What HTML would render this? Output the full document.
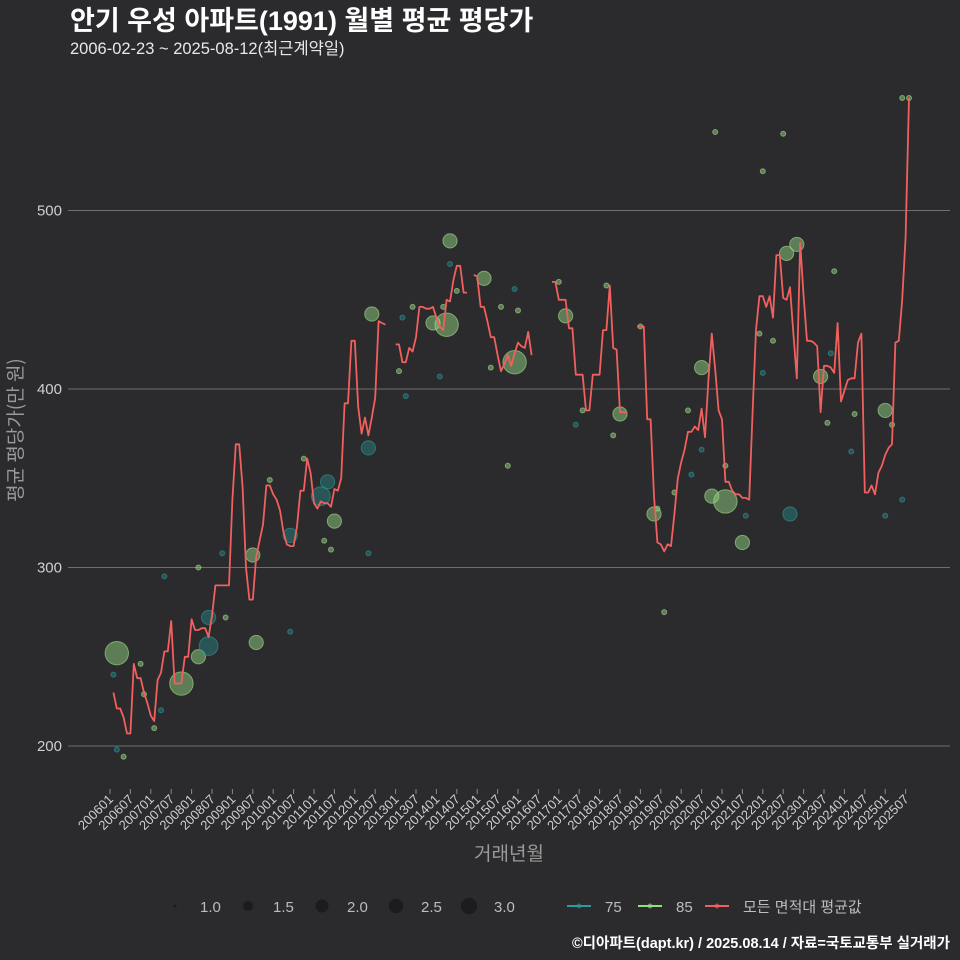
<!DOCTYPE html>
<html><head><meta charset="utf-8">
<style>
html,body{margin:0;padding:0;background:#2b2a2c;}
svg{display:block;font-family:"Liberation Sans","Noto Sans CJK KR",sans-serif;}
</style></head>
<body>
<svg id="chart" width="960" height="960" viewBox="0 0 960 960" xmlns="http://www.w3.org/2000/svg">
<rect x="0" y="0" width="960" height="960" fill="#2b2a2c"/>
<text x="70" y="30" fill="#ffffff" font-size="27" font-weight="bold">안기 우성 아파트(1991) 월별 평균 평당가</text>
<text x="70" y="54" fill="#e8e8e8" font-size="16.5">2006-02-23 ~ 2025-08-12(최근계약일)</text>
<g id="grid"></g>
<g id="scatter"></g>
<g id="line"></g>
<g id="xaxis"></g>
<text x="509" y="860" fill="#9a9a9a" font-size="19" text-anchor="middle">거래년월</text>
<text transform="translate(22,430) rotate(-90)" fill="#9a9a9a" font-size="19" text-anchor="middle" font-family="'Noto Sans CJK KR',sans-serif">평균 평당가(만 원)</text>
<g id="legend"></g>
<text x="950" y="948" fill="#ffffff" font-size="14.5" font-weight="bold" text-anchor="end">©디아파트(dapt.kr) / 2025.08.14 / 자료=국토교통부 실거래가</text>
</svg>
<script>
const yTicks = [200, 300, 400, 500];
const xTickLabels = [];
for (let yr = 2006; yr <= 2025; yr++) { xTickLabels.push(yr + "01"); xTickLabels.push(yr + "07"); }
const lineStartMonth = "200602";
const lineValues = [230,221,221,216,207,207,246,238,238,230,224,217,214,237,241,253,253,270,235,235,235,250,250,271,265,265,266,266,261,273,290,290,290,290,290,338,369,369,345,300,282,282,306,315,324,346,346,341,338,332,320,313,312,312,323,343,343,361,353,336,333,337,336,336,334,344,343,350,392,392,
427,427,390,375,384,374,384,395,438,437,436,null,null,
425,425,415,415,423,421,429,446,446,445,445,446,440,435,433,450,449,461,469,469,454,454,null,
464,463,446,446,438,429,429,419,410,414,419,413,420,426,424,423,432,419,null,null,null,null,null,
460,460,450,450,450,434,434,408,408,408,388,388,408,408,408,433,433,458,423,422,387,387,387,null,null,
435,435,435,383,383,340,314,313,309,313,312,330,350,359,366,376,376,379,377,389,373,405,431,411,388,383,
348,348,343,341,341,339,339,338,387,433,452,452,446,452,440,475,475,451,450,457,
431,406,482,452,427,427,426,424,387,413,413,412,409,437,393,399,405,406,406,426,
431,342,342,346,341,353,357,363,367,369,426,427,450,485,563];
// scatter: month, value, trade count, area type
const ptMonths = ["200603","200710","200803","200908","200907","201107","201206","201405","201404","201312","201503","201512","201703","201807","201905","202007","202010","202102","202107","202208","202211","202306","202501",
"201205","201006","200806","200806","201105","201103","202209",
"200602","200603","200605","200610","200611","200702","200704","200705","200803","200811","200810","200912","201006","201010","201104","201106","201205","201303","201302","201304","201306","201403","201402","201405","201407","201510","201505","201508","201512","201601","201701","201706","201708","201803","201805","201901","201908","201906","201911","202004","202003","202011","202007","202102","202108","202112","202201","202201","202204","202207","202308","202309","202310","202403","202404","202501","202506","202503","202506","202508"];
const ptValues = [252,235,250,258,307,326,442,483,436,437,462,415,441,386,330,412,340,337,314,476,481,407,388,
367,318,256,272,348,340,330,
240,198,194,246,229,210,220,295,300,272,308,349,264,361,315,310,308,440,410,396,446,446,407,470,455,357,412,446,456,444,460,380,388,458,374,435,275,333,342,352,388,544,366,357,329,431,522,409,427,543,381,420,466,365,386,329,338,380,563,563];
const ptCounts = [3,3,2,2,2,2,2,2,3,2,2,3,2,2,2,2,2,3,2,2,2,2,2,
2,2,2.5,2,2,2.5,2,
1,1,1,1,1,1,1,1,1,1,1,1,1,1,1,1,1,1,1,1,1,1,1,1,1,1,1,1,1,1,1,1,1,1,1,1,1,1,1,1,1,1,1,1,1,1,1,1,1,1,1,1,1,1,1,1,1,1,1,1];
const ptTypes = ["85","85","85","85","85","85","85","85","85","85","85","85","85","85","85","85","85","85","85","85","85","85","85",
"75","75","75","75","75","75","75",
"75","75","85","85","85","85","75","75","85","85","75","85","75","85","85","85","75","75","85","75","85","85","75","75","85","85","85","85","75","85","85","75","85","85","85","85","85","85","85","75","85","85","75","85","75","85","85","75","85","85","85","75","85","75","85","75","75","85","85","85"];
const sizeLegend = ["1.0","1.5","2.0","2.5","3.0"];

const NS = "http://www.w3.org/2000/svg";
const X0 = 110, MW = 3.4;
function monthIndex(s){ return (parseInt(s.slice(0,4))-2006)*12 + parseInt(s.slice(4,6)) - 1; }
function xScale(m){ return X0 + m*MW; }
function yScale(v){ return 746 - (v-200)*1.785; }
function rScale(c){ return 2.5 + (c-1)*4.6; }
function mk(tag, attrs, parent){ const e=document.createElementNS(NS,tag); for(const k in attrs) e.setAttribute(k,attrs[k]); parent.appendChild(e); return e; }

const grid = document.getElementById("grid");
yTicks.forEach(t=>{
  const l = mk("line",{x1:68,x2:950,y1:yScale(t),y2:yScale(t),stroke:"#6e6e6e","stroke-width":1},grid);
  
  
  const tx = mk("text",{x:62,y:yScale(t)+5,fill:"#cfcfcf","font-size":15,"text-anchor":"end"},grid);
  
  
  tx.textContent = t;
});

const xa = document.getElementById("xaxis");
xTickLabels.forEach(lbl=>{
  const x = xScale(monthIndex(lbl));
  const tk = mk("line",{x1:x,x2:x,y1:789,y2:794,stroke:"#8a8a8a","stroke-width":1},xa);
  
  
  const tx = mk("text",{x:x+4,y:800,fill:"#cfcfcf","font-size":13,"text-anchor":"end",transform:`rotate(-45 ${x+4} 800)`},xa);
  
  
  tx.textContent = lbl;
});

const sc = document.getElementById("scatter");
ptMonths.forEach((m,i)=>{
  const is85 = ptTypes[i]==="85";
  const c = mk("circle",{cx:xScale(monthIndex(m)),cy:yScale(ptValues[i]),r:rScale(ptCounts[i]),
    fill:is85?"#8fcf7f":"#2a8a8a","fill-opacity":is85?0.5:0.45,stroke:is85?"#a6e08f":"#2f9a9a","stroke-opacity":0.6,"stroke-width":1},sc);
  
  
});

const lg = document.getElementById("line");
const m0 = monthIndex(lineStartMonth);
let d = "", pen = false;
lineValues.forEach((v,i)=>{
  if (v===null){ pen=false; return; }
  d += (pen?"L":"M") + xScale(m0+i).toFixed(1) + "," + yScale(v).toFixed(1);
  pen = true;
});
const p = mk("path",{d:d,fill:"none",stroke:"#f0605e","stroke-width":1.8,"stroke-linejoin":"round"},lg);



const leg = document.getElementById("legend");
const lx = [175,248,322,396,469], lr = [1.5,5,6.5,7.3,8.2];
sizeLegend.forEach((s,i)=>{
  const c = mk("circle",{cx:lx[i],cy:906,r:lr[i],fill:"#1c1b1d"},leg);
  
  
  const t = mk("text",{x:lx[i]+25,y:912,fill:"#bdbdbd","font-size":15},leg);
  
  
  t.textContent = s;
});
const seriesLeg = [["75","#2a9a9a",567],["85","#8fe07f",638],["모든 면적대 평균값","#f0605e",705]];
seriesLeg.forEach(([lab,col,x])=>{
  const g = mk("g",{},leg);
  
  
  mk("line",{x1:x,x2:x+24,y1:906,y2:906,stroke:col,"stroke-width":2},g);
  mk("circle",{cx:x+12,cy:906,r:2.5,fill:col,"fill-opacity":0.6},g);
  const t = mk("text",{x:x+38,y:912,fill:"#bdbdbd","font-size":15},g);
  t.textContent = lab;
});
</script>
</body></html>
